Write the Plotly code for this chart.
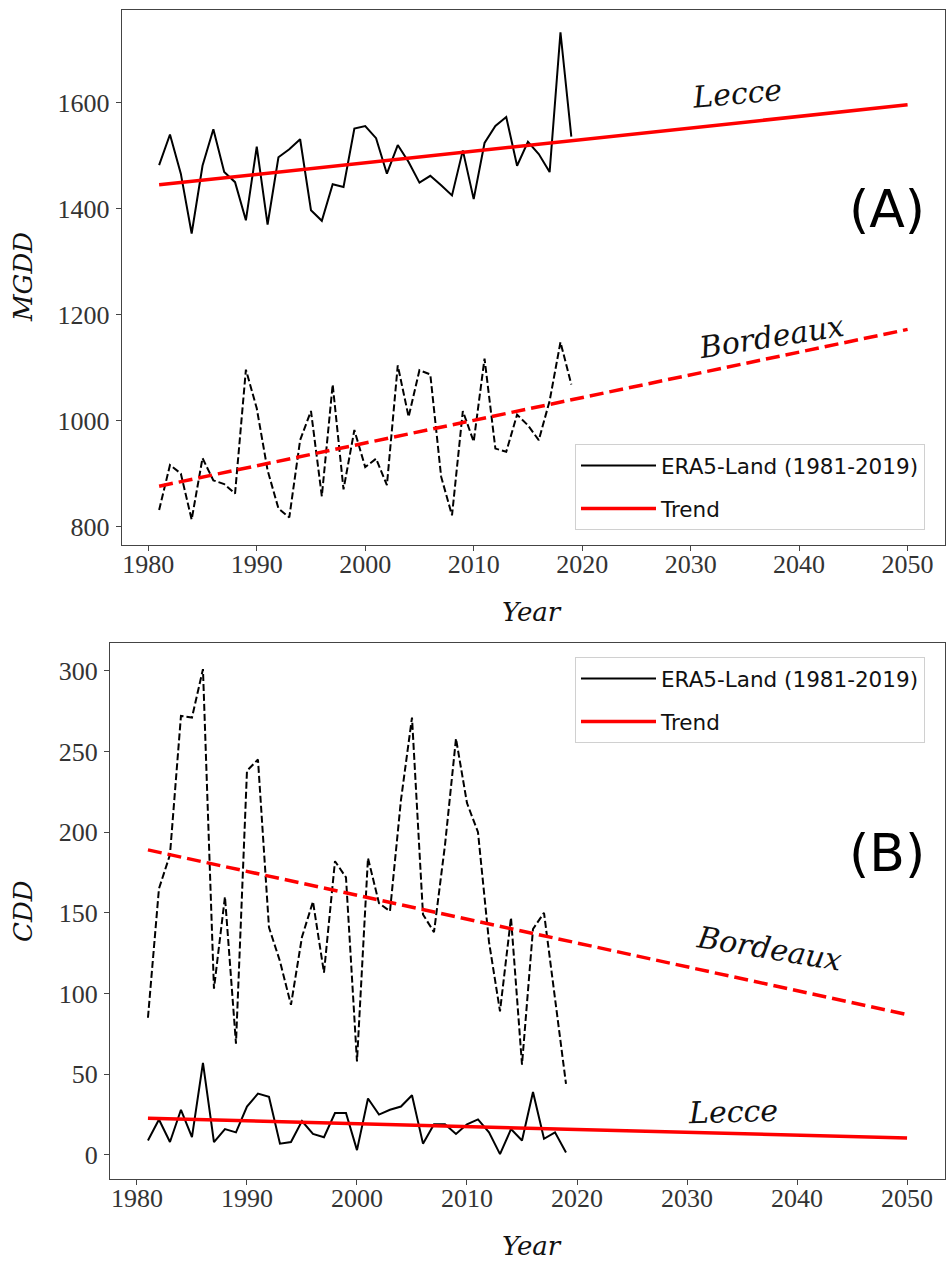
import plotly.graph_objects as go

# ---------------- data ----------------
years = [1981, 1982, 1983, 1984, 1985, 1986, 1987, 1988, 1989, 1990,
         1991, 1992, 1993, 1994, 1995, 1996, 1997, 1998, 1999, 2000,
         2001, 2002, 2003, 2004, 2005, 2006, 2007, 2008, 2009, 2010,
         2011, 2012, 2013, 2014, 2015, 2016, 2017, 2018, 2019]

lecce_mgdd = [1482, 1540, 1466, 1353, 1481, 1550, 1469, 1450, 1378, 1517,
              1370, 1497, 1512, 1531, 1397, 1377, 1446, 1441, 1551, 1556,
              1533, 1466, 1520, 1488, 1449, 1462, 1444, 1425, 1510, 1418,
              1524, 1556, 1573, 1481, 1526, 1503, 1469, 1733, 1536]

bordeaux_mgdd = [831, 916, 900, 813, 929, 887, 880, 862, 1096, 1023,
                 906, 834, 817, 963, 1018, 857, 1068, 870, 982, 912,
                 928, 878, 1104, 1007, 1095, 1087, 894, 821, 1018, 960,
                 1117, 947, 941, 1011, 991, 963, 1037, 1148, 1068]

lecce_cdd = [9, 22, 8, 28, 11, 57, 8, 16, 14, 30,
             38, 36, 7, 8, 21, 13, 11, 26, 26, 3,
             35, 25, 28, 30, 37, 7, 19, 19, 13, 19,
             22, 14, 0.5, 16, 9, 39, 10, 14, 1.5]

bordeaux_cdd = [85, 165, 186, 272, 271, 301, 103, 160, 69, 238,
                245, 141, 120, 93, 135, 157, 113, 182, 172, 58,
                184, 156, 151, 220, 271, 149, 138, 192, 258, 218,
                200, 132, 89, 147, 56, 140, 150, 97, 44]

trend_years = [1981, 2050]
lecce_mgdd_trend = [1445, 1596]
bordeaux_mgdd_trend = [876, 1172]
lecce_cdd_trend = [22.7, 10.5]
bordeaux_cdd_trend = [189, 87]

x_ticks = [1980, 1990, 2000, 2010, 2020, 2030, 2040, 2050]
mgdd_ticks = [800, 1000, 1200, 1400, 1600]
cdd_ticks = [0, 50, 100, 150, 200, 250, 300]

legend_data_label = "ERA5-Land (1981-2019)"
legend_trend_label = "Trend"

# ---------------- figure ----------------
W, H = 946, 1262
SERIF = "Liberation Serif"
ISERIF = "DejaVu Serif"
SANS = "DejaVu Sans"
BLACK = "black"
RED = "#ff0000"

fig = go.Figure()

# Top panel (A)
fig.add_trace(go.Scatter(x=years, y=bordeaux_mgdd, mode="lines",
                         line=dict(color=BLACK, width=2, dash="7px,3px"),
                         xaxis="x", yaxis="y", showlegend=False))
fig.add_trace(go.Scatter(x=trend_years, y=bordeaux_mgdd_trend, mode="lines",
                         line=dict(color=RED, width=3.5, dash="14px,6px"),
                         xaxis="x", yaxis="y", showlegend=False))
fig.add_trace(go.Scatter(x=years, y=lecce_mgdd, mode="lines",
                         line=dict(color=BLACK, width=2),
                         xaxis="x", yaxis="y", name=legend_data_label,
                         legend="legend", legendgroup="a1", showlegend=True))
fig.add_trace(go.Scatter(x=trend_years, y=lecce_mgdd_trend, mode="lines",
                         line=dict(color=RED, width=3.5),
                         xaxis="x", yaxis="y", name=legend_trend_label,
                         legend="legend", legendgroup="a2", showlegend=True))

# Bottom panel (B)
fig.add_trace(go.Scatter(x=years, y=bordeaux_cdd, mode="lines",
                         line=dict(color=BLACK, width=2, dash="7px,3px"),
                         xaxis="x2", yaxis="y2", showlegend=False))
fig.add_trace(go.Scatter(x=trend_years, y=bordeaux_cdd_trend, mode="lines",
                         line=dict(color=RED, width=3.5, dash="14px,6px"),
                         xaxis="x2", yaxis="y2", showlegend=False))
fig.add_trace(go.Scatter(x=years, y=lecce_cdd, mode="lines",
                         line=dict(color=BLACK, width=2),
                         xaxis="x2", yaxis="y2", name=legend_data_label,
                         legend="legend2", legendgroup="b1", showlegend=True))
fig.add_trace(go.Scatter(x=trend_years, y=lecce_cdd_trend, mode="lines",
                         line=dict(color=RED, width=3.5),
                         xaxis="x2", yaxis="y2", name=legend_trend_label,
                         legend="legend2", legendgroup="b2", showlegend=True))

def px_x(p):
    return p / W

def px_y(p):
    return 1 - p / H

axis_common = dict(showgrid=False, zeroline=False, showline=True, mirror=True,
                   linecolor="#444", linewidth=1, ticks="outside", ticklen=5,
                   tickwidth=1, tickcolor="#444",
                   tickfont=dict(family=SERIF, size=26, color="#333"))

xr = [1977.55, 2053.45]
legend_common = dict(xanchor="left", yanchor="top",
                     bgcolor="rgba(255,255,255,0.8)", bordercolor="#d0d0d0", borderwidth=1,
                     font=dict(family=SANS, size=21.5, color="#111"),
                     traceorder="grouped", tracegroupgap=12, itemwidth=75)
fig.update_layout(
    width=W, height=H,
    margin=dict(l=0, r=0, t=0, b=0),
    paper_bgcolor="white", plot_bgcolor="white",
    xaxis=dict(domain=[px_x(121.7), px_x(945)], range=xr, tickvals=x_ticks,
               anchor="y", ticklabelstandoff=-9, **axis_common),
    yaxis=dict(domain=[px_y(545), px_y(10)], range=[765, 1775], tickvals=mgdd_ticks,
               anchor="x", ticklabelstandoff=1, **axis_common),
    xaxis2=dict(domain=[px_x(110), px_x(945)], range=xr, tickvals=x_ticks,
                anchor="y2", ticklabelstandoff=-9, **axis_common),
    yaxis2=dict(domain=[px_y(1179), px_y(643)], range=[-14.9, 317.2], tickvals=cdd_ticks,
                anchor="x2", ticklabelstandoff=1, **axis_common),
    legend=dict(x=px_x(575), y=px_y(444), **legend_common),
    legend2=dict(x=px_x(575), y=px_y(657), **legend_common),
)

annotations = [
    # axis titles
    dict(text="MGDD", xref="paper", yref="paper", x=px_x(23), y=px_y(277),
         textangle=-90, font=dict(family=ISERIF, size=26, color="#111"), style_italic=True),
    dict(text="CDD", xref="paper", yref="paper", x=px_x(23), y=px_y(911),
         textangle=-90, font=dict(family=ISERIF, size=26, color="#111"), style_italic=True),
    dict(text="Year", xref="paper", yref="paper", x=px_x(532), y=px_y(612),
         font=dict(family=ISERIF, size=26, color="#111"), style_italic=True),
    dict(text="Year", xref="paper", yref="paper", x=px_x(532), y=px_y(1246),
         font=dict(family=ISERIF, size=26, color="#111"), style_italic=True),
    # panel letters
    dict(text="(A)", xref="paper", yref="paper", x=px_x(887), y=px_y(209),
         font=dict(family=SANS, size=52, color="black")),
    dict(text="(B)", xref="paper", yref="paper", x=px_x(887), y=px_y(853),
         font=dict(family=SANS, size=52, color="black")),
    # site labels
    dict(text="Lecce", xref="x", yref="y", x=2034.3, y=1618, textangle=-5,
         font=dict(family=ISERIF, size=30, color="#111"), style_italic=True),
    dict(text="Bordeaux", xref="x", yref="y", x=2037.5, y=1158, textangle=-9,
         font=dict(family=ISERIF, size=30, color="#111"), style_italic=True),
    dict(text="Bordeaux", xref="x2", yref="y2", x=2037.5, y=128, textangle=9.5,
         font=dict(family=ISERIF, size=30, color="#111"), style_italic=True),
    dict(text="Lecce", xref="x2", yref="y2", x=2034.2, y=27, textangle=-1.5,
         font=dict(family=ISERIF, size=30, color="#111"), style_italic=True),
]
for a in annotations:
    italic = a.pop("style_italic", False)
    if italic:
        a["font"]["style"] = "italic"
    a["showarrow"] = False
    a["xanchor"] = "center"
    a["yanchor"] = "middle"
fig.update_layout(annotations=annotations)

fig.write_html("out.html")
